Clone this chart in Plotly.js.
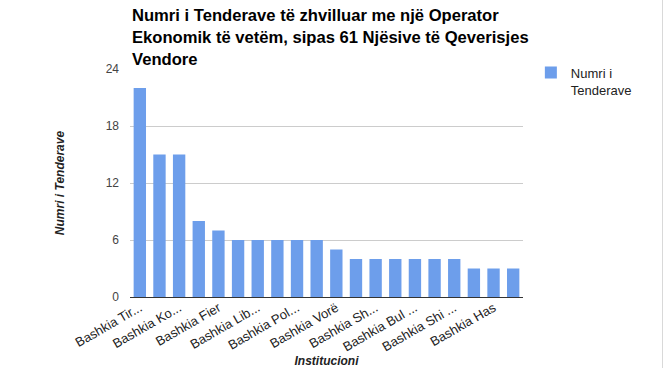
<!DOCTYPE html>
<html>
<head>
<meta charset="utf-8">
<script src="https://cdn.plot.ly/plotly-3.0.1.min.js"></script>
<style>
  html, body { margin: 0; padding: 0; background: #fff; }
  #chart { width: 662px; height: 368px; border-right: 1px solid #d9d9d9; }
</style>
</head>
<body>
<div id="chart"></div>
<script>
// Categories (institutions), in chart order
const institutions = [
  "Bashkia Tiranë", "Bashkia Durrës", "Bashkia Korçë", "Bashkia Elbasan",
  "Bashkia Fier", "Bashkia Vlorë", "Bashkia Librazhd", "Bashkia Kamëz",
  "Bashkia Pogradec", "Bashkia Berat", "Bashkia Vorë", "Bashkia Lushnjë",
  "Bashkia Shkodër", "Bashkia Kukës", "Bashkia Bulqizë", "Bashkia Dibër",
  "Bashkia Shijak", "Bashkia Lezhë", "Bashkia Has", "Bashkia Tropojë"
];
// Number of tenders per institution
const tenders = [22, 15, 15, 8, 7, 6, 6, 6, 6, 6, 5, 4, 4, 4, 4, 4, 4, 3, 3, 3];
// Tick labels as shown on the axis (every other category)
const tickCats = [
  "Bashkia Tiranë", "Bashkia Korçë", "Bashkia Fier", "Bashkia Librazhd",
  "Bashkia Pogradec", "Bashkia Vorë", "Bashkia Shkodër", "Bashkia Bulqizë",
  "Bashkia Shijak", "Bashkia Has"
];
const tickLabels = [
  "Bashkia Tir...", "Bashkia Ko...", "Bashkia Fier", "Bashkia Lib...",
  "Bashkia Pol...", "Bashkia Vorë", "Bashkia Sh...", "Bashkia Bul ...",
  "Bashkia Shi ...", "Bashkia Has"
];
const yTicks = [0, 6, 12, 18, 24];

const font = "Arial, 'Liberation Sans', sans-serif";

const data = [{
  type: "bar",
  x: institutions,
  y: tenders,
  name: "Numri i<br>Tenderave",
  marker: { color: "#6d9eeb" },
  hoverinfo: "x+y"
}];

const layout = {
  width: 662,
  height: 368,
  margin: { l: 130, r: 139, t: 69, b: 71 },
  paper_bgcolor: "#ffffff",
  plot_bgcolor: "#ffffff",
  font: { family: font, size: 12, color: "#222" },
  bargap: 0.37,
  title: {
    text: "Numri i Tenderave të zhvilluar me një Operator<br>Ekonomik të vetëm, sipas 61 Njësive të Qeverisjes<br>Vendore",
    font: { family: font, size: 16.6, color: "#000", weight: "bold" },
    x: 132 / 662,
    xanchor: "left",
    xref: "container",
    y: 0.942,
    yanchor: "top",
    yref: "container"
  },
  xaxis: {
    type: "category",
    tickmode: "array",
    tickvals: tickCats,
    ticktext: tickLabels,
    tickangle: -30,
    tickfont: { family: font, size: 13, color: "#222" },
    showgrid: false,
    showline: false,
    ticks: "",
    automargin: false,
    title: {
      text: "<b><i>Institucioni</i></b>",
      font: { family: font, size: 12, color: "#222" },
      standoff: 4
    }
  },
  yaxis: {
    range: [0, 24],
    tickmode: "array",
    tickvals: yTicks,
    tickfont: { family: font, size: 12, color: "#444" },
    showgrid: true,
    gridcolor: "#cccccc",
    zeroline: true,
    zerolinecolor: "#333333",
    zerolinewidth: 1,
    showline: false,
    ticks: "",
    ticklabelstandoff: 10,
    automargin: false,
    title: {
      text: "<b><i>Numri i Tenderave</i></b>",
      font: { family: font, size: 12, color: "#222" },
      standoff: 38
    }
  },
  showlegend: true,
  legend: {
    x: 1.02,
    xanchor: "left",
    y: 1.05,
    yanchor: "top",
    valign: "top",
    font: { family: font, size: 13, color: "#222" },
    bgcolor: "rgba(0,0,0,0)"
  }
};

Plotly.newPlot("chart", data, layout, { displayModeBar: false, staticPlot: true });
</script>
</body>
</html>
